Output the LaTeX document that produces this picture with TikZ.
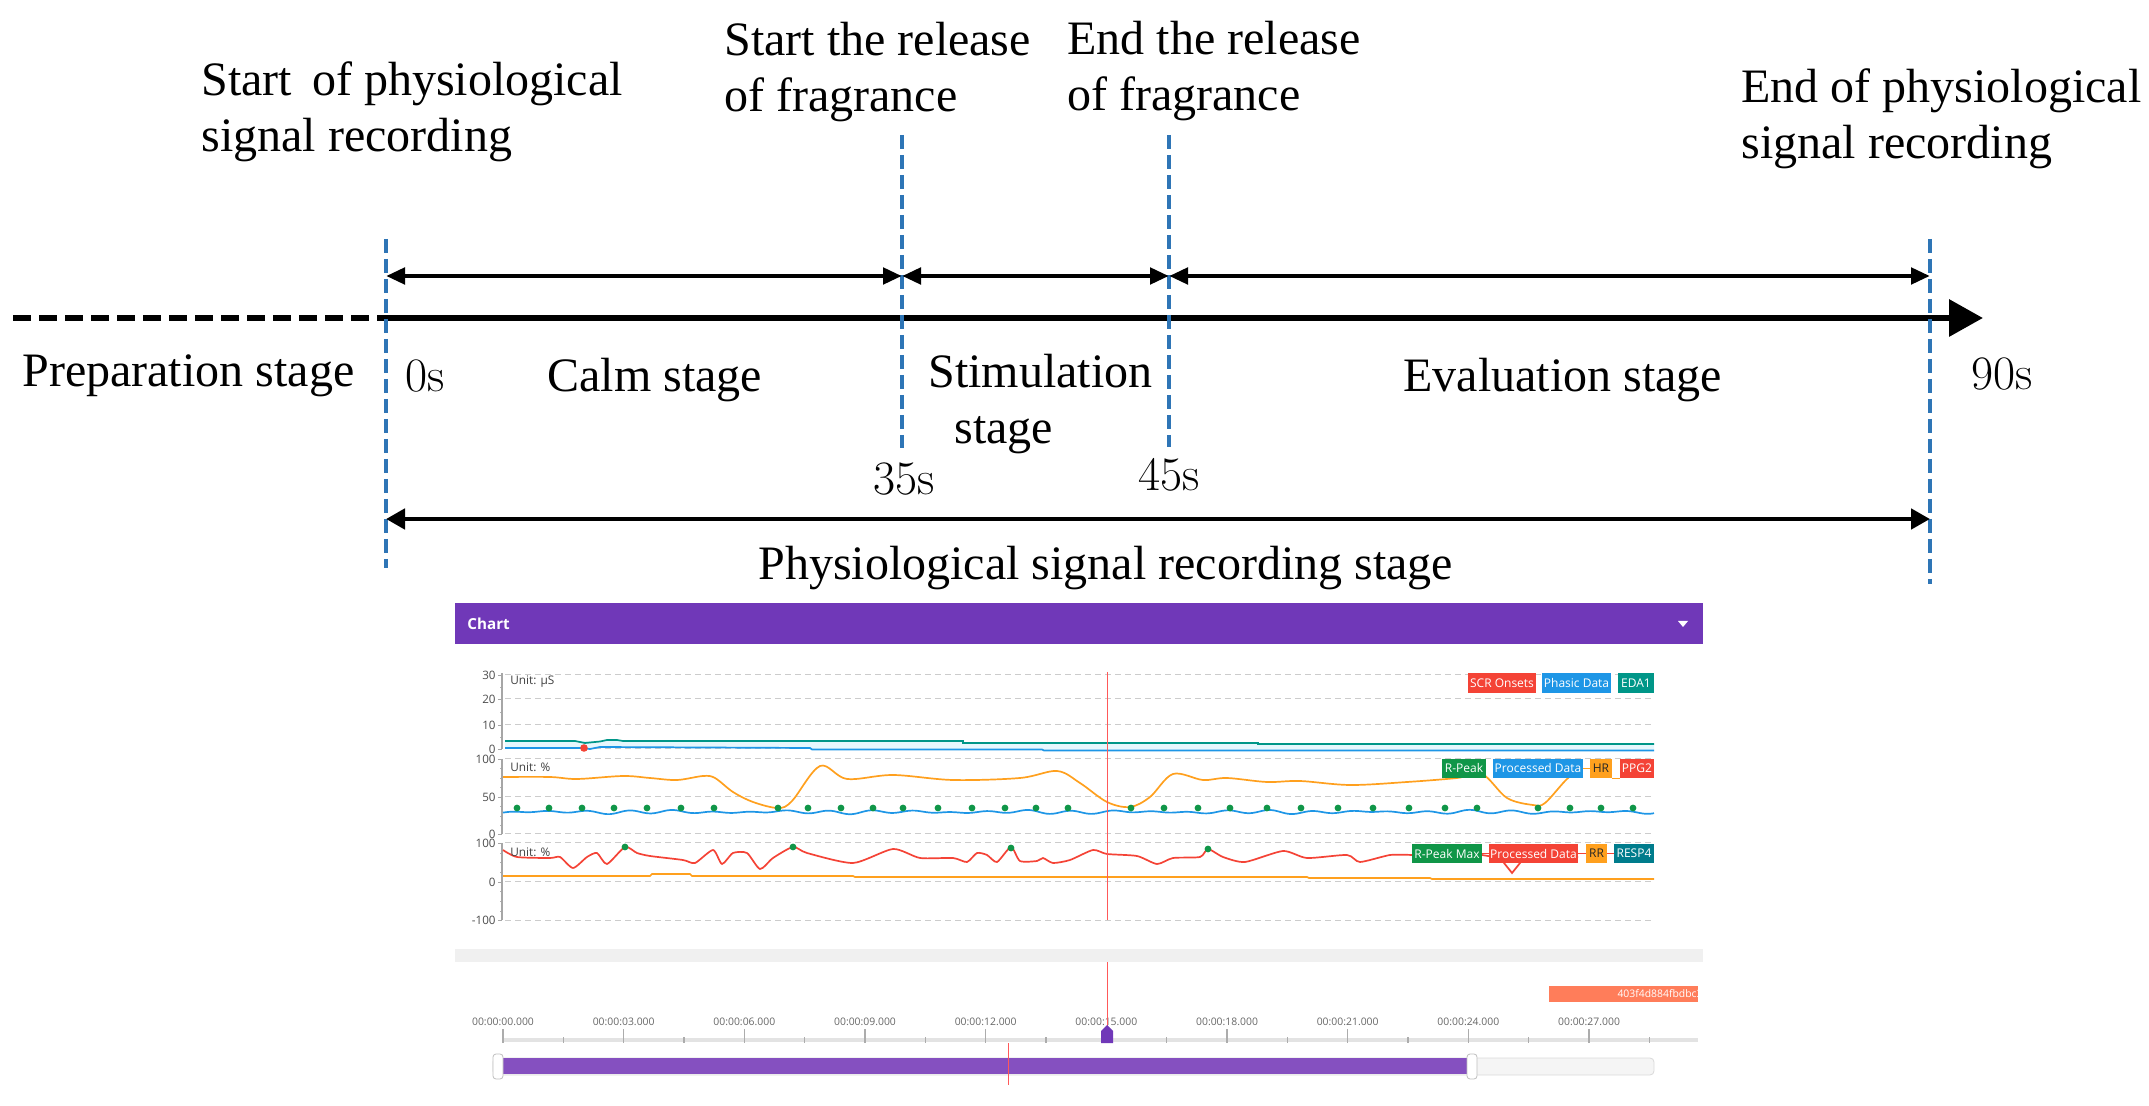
\documentclass[tikz,border=0pt]{standalone}
\usepackage{fontspec}
\newfontfamily\tnr{Liberation Serif}
\newfontfamily\ui{Open Sans}
\usetikzlibrary{arrows.meta}
\definecolor{markblue}{RGB}{46,117,182}
\definecolor{chartpurple}{RGB}{112,56,184}
\definecolor{barpurple}{RGB}{133,80,192}
\definecolor{edateal}{RGB}{0,150,136}
\definecolor{phasicblue}{RGB}{30,150,230}
\definecolor{scrred}{RGB}{244,67,54}
\definecolor{hrorange}{RGB}{255,160,30}
\definecolor{peakgreen}{RGB}{16,150,72}
\definecolor{respteal}{RGB}{0,124,140}
\definecolor{tagcoral}{RGB}{255,125,90}
\begin{document}
\begin{tikzpicture}[x=0.5pt,y=-0.5pt,>=Stealth,
  lbl/.style={font=\tnr\fontsize{24}{28}\selectfont,inner sep=0pt,anchor=base west,align=left},
  num/.style={font=\fontsize{24}{28}\selectfont,inner sep=0pt,anchor=base west},
  markline/.style={markblue,line width=1.6pt,dash pattern=on 7pt off 3pt},
  axisline/.style={line width=3.2pt},
  stagearrow/.style={line width=2.4pt,{Triangle[length=9.5pt,width=8pt]}-{Triangle[length=9.5pt,width=8pt]}},
  grid/.style={gray!40,line width=.5pt,dash pattern=on 3pt off 2pt},
  tick/.style={font=\ui\fontsize{5.8}{6}\selectfont,text=black!70,inner sep=0pt,anchor=east},
  unit/.style={font=\ui\fontsize{5.9}{6}\selectfont,text=black!75,inner sep=0pt,anchor=west},
  leg/.style={font=\ui\fontsize{6}{6}\selectfont,text=white,inner sep=0pt,minimum height=9.6pt},
  sig/.style={line width=.85pt},
  dot/.style={peakgreen},
  timefont/.style={font=\ui\fontsize{5.2}{6}\selectfont,text=black!60,inner sep=0pt}]
\useasboundingbox (0,0) rectangle (2149,1106);
% time line
\coordinate (start) at (13,318);
\coordinate (zero) at (386,318);
\coordinate (tip) at (1983,318);
\draw[axisline,dash pattern=on 9pt off 4pt] (start) -- (zero);
\draw[axisline,-{Triangle[length=17pt,width=18pt]}] (zero) -- (tip);
\foreach \n/\x/\a/\b in {m0/386/239/568,m35/902/135/448,m45/1169/135/447,m90/1930/239/584}
  {\draw[markline] (\x,\a) -- (\x,\b);
   \coordinate (\n) at (\x,276);}
\coordinate (w0) at (386,519);
\coordinate (w90) at (1930,519);
\draw[stagearrow] (m0) -- (m35);
\draw[stagearrow] (m35) -- (m45);
\draw[stagearrow] (m45) -- (m90);
\draw[line width=2.4pt,{Triangle[length=9.5pt,width=10pt]}-{Triangle[length=9.5pt,width=10pt]}] (w0) -- (w90);
\node[lbl] (startrec) at (201,152) {Start\, of physiological\\signal recording};
\node[lbl] (startrel) at (724,112) {Start the release\\of fragrance};
\node[lbl] (endrel) at (1067,111) {End the release\\of fragrance};
\node[lbl] (endrec) at (1741,159) {End of physiological\\signal recording};
\node[lbl] (prep) at (22,387) {Preparation stage};
\node[num] (s0) at (405,392) {0s};
\node[lbl] (calm) at (547,392) {Calm stage};
\node[lbl] (stim) at (928,444) {Stimulation\\\hspace*{13pt}stage};
\node[lbl] (eval) at (1403,392) {Evaluation stage};
\node[num] (s90) at (1971,390) {90s};
\node[num] (s35) at (873,495) {35s};
\node[num] (s45) at (1138,491) {45s};
\node[lbl] (whole) at (758,580) {Physiological signal recording stage};
% chart
\fill[chartpurple] (455,603) rectangle (1703,644);
\node[font=\ui\fontsize{7.6}{9}\selectfont\bfseries,text=white,anchor=west,inner sep=0pt] (chart) at (467,624) {Chart};
\fill[white] (1678,621) -- (1688,621) -- (1683,627) -- cycle;
\foreach \y/\t in {675/30,699/20,725/10,749/0,759/100,797/50,834/0,843/100,882/0,920/-100}
  {\draw[grid] (505,\y) -- (1654,\y);
   \draw[gray!70] (498,\y) -- (502,\y);
   \node[tick] at (496,\y) {\t};}
\foreach \y in {687,712,737,768,778,787,806,816,825,853,862,872,891,901,911}
  \draw[gray!60] (500,\y) -- (502,\y);
\draw[gray!70,line width=.6pt] (502,673) -- (502,749) (502,759) -- (502,834) (502,843) -- (502,920);
\fill[cyan!10] (505,741) -- (963,741) -- (963,743) -- (1258,743) -- (1258,744) -- (1654,744) -- (1654,750.5) -- (1044,750.5) -- (1042,749.5) -- (812,749.5) -- (810,748) -- (505,748) -- cycle;
\draw[sig,edateal] (505,741) -- (575,741) -- (585,743) -- (600,741.5) -- (607,740) -- (617,740) -- (623,741) -- (963,741) -- (963,743) -- (1258,743) -- (1258,744) -- (1654,744);
\draw[sig,phasicblue] (505,748) -- (580,748) -- (590,749) -- (600,747) -- (810,748) -- (812,749.5) -- (1042,749.5) -- (1044,750.5) -- (1654,750.5);
\fill[scrred] (584,748) circle[radius=1.9pt];
\draw[sig,phasicblue] plot[domain=503:1654,samples=420] (\x,{812+1.1*sin(9*\x)+0.7*sin(7.3*\x)+0.5*sin(3.1*\x)});
\draw[sig,hrorange] plot[smooth,tension=.55] coordinates {(503,777) (550,777) (577,779) (623,776) (650,778) (677,780) (703,776) (715,778) (733,792) (753,802) (778,808) (792,801) (820,766) (847,779) (893,775) (953,780) (1020,778) (1057,771) (1080,783) (1107,802) (1130,807) (1150,797) (1173,774) (1203,780) (1227,778) (1267,782) (1300,781) (1350,785) (1407,782) (1457,778) (1482,774) (1507,798) (1533,805) (1545,803) (1567,779) (1583,768)};
\foreach \x in {517,549,582,614,647,681,714,778,808,841,873,903,938,972,1005,1036,1068,1131,1164,1198,1230,1267,1301,1338,1373,1409,1445,1477,1538,1570,1601,1633}
  \fill[dot] (\x,808) circle[radius=1.7pt];
\draw[sig,hrorange] (503,876) -- (650,876) -- (652,874) -- (690,874) -- (692,876) -- (853,876) -- (855,877) -- (1307,877) -- (1309,878) -- (1430,878) -- (1432,879) -- (1654,879);
\draw[sig,scrred] plot[smooth,tension=.4] coordinates {(503,850) (517,857) (550,858) (560,857) (573,868) (587,857) (597,853) (607,864) (625,847) (637,853) (650,856) (683,860) (695,863) (713,850) (722,864) (733,853) (747,853) (760,869) (773,858) (793,847) (807,853) (853,863) (893,849) (920,858) (953,858) (967,862) (977,853) (987,855) (997,862) (1011,847) (1020,861) (1037,861) (1043,858) (1053,863) (1070,860) (1093,850) (1107,854) (1137,856) (1157,864) (1173,858) (1200,857) (1208,849) (1223,857) (1245,862) (1283,851) (1307,858) (1347,855) (1360,862) (1390,855) (1412,855)};
\draw[sig,scrred] (1482,855) -- (1500,858) -- (1512,873) -- (1524,858) -- (1578,857);
\foreach \x/\y in {625/847,793/847,1011/848,1208/849}
  \fill[dot] (\x,\y) circle[radius=1.7pt];
\draw[red!65,line width=.5pt] (1107,672) -- (1107,920);
\node[unit] (unit1) at (510,682) {Unit: μS};
\node[unit] (unit2) at (510,767) {Unit: \%};
\node[unit] (unit3) at (510,852) {Unit: \%};
\node[leg,fill=scrred,minimum width=34pt] (scr) at (1502,683) {SCR Onsets};
\node[leg,fill=phasicblue,minimum width=34.5pt] (phasic) at (1576.5,683) {Phasic Data};
\node[leg,fill=edateal,minimum width=18pt] (eda) at (1636,683) {EDA1};
\node[leg,fill=peakgreen,minimum width=22pt] (rpeak) at (1464,768.5) {R-Peak};
\node[leg,fill=phasicblue,minimum width=45pt] (ppgdata) at (1538,768.5) {Processed Data};
\node[leg,fill=hrorange,text=black!85,minimum width=11pt] (hr) at (1601,768.5) {HR};
\node[leg,fill=scrred,minimum width=17pt] (ppg) at (1637,768.5) {PPG2};
\node[leg,fill=peakgreen,minimum width=35pt] (rpmax) at (1447,853.5) {R-Peak Max};
\node[leg,fill=scrred,minimum width=44.5pt] (respdata) at (1533.5,853.5) {Processed Data};
\node[leg,fill=hrorange,text=black!85,minimum width=10.5pt] (rr) at (1596.5,853.5) {RR};
\node[leg,fill=respteal,minimum width=20pt] (resp) at (1634,853.5) {RESP4};
\draw[sig,hrorange] (ppgdata.east) -- (hr.west);
\draw[sig,hrorange] (hr.south east) -- (ppg.south west);
\draw[sig,scrred] (rpmax.east) -- (respdata.west);
\draw[sig,scrred] (respdata.east) -- (rr.west);
\draw[sig,scrred] (rr.east) -- (resp.west);
% time axis of the chart
\fill[gray!12] (455,949) rectangle (1703,962);
\draw[gray!22,line width=1.6pt] (503,1040) -- (1698,1040);
\foreach \k/\s in {0/00,1/03,2/06,3/09,4/12,5/15,6/18,7/21,8/24,9/27}
  {\draw[gray!65,line width=.6pt] ({503+120.67*\k},1029) -- ({503+120.67*\k},1043);
   \draw[gray!65,line width=.6pt] ({563.3+120.67*\k},1037) -- ({563.3+120.67*\k},1043);
   \node[timefont] (time\k) at ({503+120.67*\k},1022) {00:00:\s.000};}
\fill[tagcoral] (1549,986) rectangle (1698,1002);
\begin{scope}
\clip (1549,986) rectangle (1698,1002);
\node[font=\ui\fontsize{5.2}{6}\selectfont,text=white,inner sep=0pt,anchor=east] (tag) at (1703,994) {403f4d884fbdbc3};
\end{scope}
\draw[red!65,line width=.5pt] (1107,962) -- (1107,1040);
\fill[chartpurple] (1101,1043) -- (1101,1031) -- (1107,1025) -- (1113,1031) -- (1113,1043) -- cycle;
\draw[gray!30,fill=gray!8,rounded corners=2pt] (493,1058) rectangle (1654,1075);
\fill[barpurple] (503,1058) rectangle (1467,1074);
\draw[red!65,line width=.5pt] (1008,1043) -- (1008,1085);
\draw[gray!50,fill=white,rounded corners=1.5pt] (493,1054) rectangle (503,1079);
\draw[gray!50,fill=white,rounded corners=1.5pt] (1467,1054) rectangle (1477,1079);
\end{tikzpicture}
\end{document}
